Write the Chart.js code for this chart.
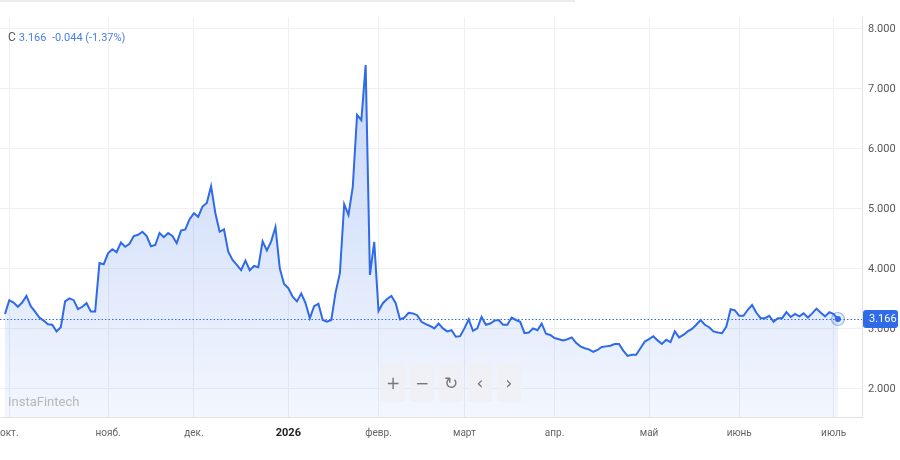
<!DOCTYPE html>
<html><head><meta charset="utf-8">
<script src="https://cdn.jsdelivr.net/npm/chart.js@4.4.1/dist/chart.umd.min.js"></script>
<style>
html,body{margin:0;padding:0;background:#fff;width:900px;height:460px;overflow:hidden;font-family:Roboto,'Noto Sans',sans-serif}
#wrap{position:relative;width:900px;height:460px}
canvas{position:absolute;left:0;top:0}
#hdr{position:absolute;left:8px;top:30px;font-size:11px;line-height:14px;color:#4a7de8;white-space:pre}
#hdr .c{color:#555;margin-right:3px;font-size:12px}
#wm{position:absolute;left:8px;top:394px;font-size:13px;color:#b8b8b8}
#btns{position:absolute;left:381px;top:363px;display:flex;gap:5px}
.b{width:24px;height:39px;border-radius:4px;background:rgba(238,240,244,0.85);color:#777;font-size:17px;display:flex;align-items:center;justify-content:center;font-family:'DejaVu Sans',sans-serif}
#bar{position:absolute;left:0;top:0;width:575px;height:2px;background:#ececec}
</style></head>
<body>
<div id="wrap">
<canvas id="c" width="900" height="460"></canvas>
<div id="bar"></div>
<div id="hdr"><span class="c">C</span><span id="hv"></span></div>
<div id="wm">InstaFintech</div>
<div id="btns"><div class="b">+</div><div class="b">−</div><div class="b">↻</div><div class="b">‹</div><div class="b">›</div></div>
</div>
<script>
const monthLabels = ['окт.','нояб.','дек.','2026','февр.','март','апр.','май','июнь','июль'];
const monthTickIdx = [1,24,44,66,87,107,128,150,171,193];
const yTicks = [2,3,4,5,6,7,8];
const lastChange = '-0.044';
const lastChangePct = '(-1.37%)';
const closeValues = [
3.25,3.48,3.44,3.37,3.44,3.55,3.38,3.29,3.19,3.14,3.08,3.07,2.96,3.03,3.46,3.51,3.48,3.33,3.37,3.43,
3.29,3.29,4.10,4.08,4.26,4.33,4.28,4.44,4.37,4.42,4.55,4.57,4.62,4.55,4.38,4.40,4.60,4.53,4.60,4.55,
4.43,4.64,4.66,4.83,4.93,4.87,5.04,5.10,5.38,4.93,4.62,4.66,4.29,4.15,4.07,3.98,4.14,3.98,4.05,4.03,
4.46,4.31,4.46,4.70,4.01,3.75,3.68,3.54,3.46,3.59,3.43,3.18,3.38,3.42,3.15,3.12,3.15,3.61,3.93,5.08,
4.90,5.37,6.57,6.48,7.40,3.90,4.45,3.30,3.43,3.50,3.55,3.43,3.16,3.19,3.27,3.26,3.23,3.12,3.08,3.05,
3.01,3.09,3.01,2.96,2.98,2.87,2.88,3.01,3.16,2.97,3.01,3.20,3.07,3.09,3.14,3.15,3.07,3.07,3.19,3.15,
3.12,2.93,2.94,3.01,2.98,3.09,2.92,2.90,2.85,2.83,2.81,2.83,2.86,2.77,2.71,2.68,2.66,2.62,2.65,2.70,
2.71,2.72,2.75,2.75,2.64,2.55,2.57,2.57,2.68,2.79,2.83,2.88,2.81,2.75,2.82,2.78,2.96,2.86,2.90,2.96,
3.00,3.07,3.15,3.07,3.03,2.96,2.94,2.93,3.04,3.33,3.31,3.22,3.22,3.32,3.40,3.27,3.18,3.18,3.22,3.12,
3.18,3.18,3.28,3.20,3.25,3.21,3.26,3.19,3.26,3.34,3.27,3.21,3.28,3.25,3.166
];
const N = closeValues.length;
const lastVal = closeValues[N-1];
document.getElementById('hv').textContent = lastVal.toFixed(3) + '  ' + lastChange + ' ' + lastChangePct;

const BLUE = '#2f6ae8';
const overlay = {
  id:'overlay',
  afterDatasetsDraw(chart){
    const {ctx, chartArea:a, scales:{x,y}} = chart;
    const py = y.getPixelForValue(lastVal);
    const px = x.getPixelForValue(N-1);
    ctx.save();
    ctx.strokeStyle = BLUE; ctx.lineWidth = 1; ctx.setLineDash([1.5,2]);
    ctx.beginPath(); ctx.moveTo(a.left, Math.round(py)+0.5); ctx.lineTo(a.right, Math.round(py)+0.5); ctx.stroke();
    ctx.setLineDash([]);
    ctx.beginPath(); ctx.arc(px, py, 6.5, 0, Math.PI*2);
    ctx.fillStyle='rgba(47,106,232,0.12)'; ctx.fill();
    ctx.strokeStyle='rgba(47,106,232,0.45)'; ctx.lineWidth=1.2; ctx.stroke();
    const bx = a.right+1, bw = 35, bh = 18, by = py - bh/2;
    ctx.fillStyle = BLUE;
    ctx.beginPath(); ctx.roundRect(bx, by, bw, bh, 3); ctx.fill();
    ctx.fillStyle='#fff'; ctx.font='11px Roboto, sans-serif'; ctx.textBaseline='middle'; ctx.textAlign='left';
    ctx.fillText(lastVal.toFixed(3), bx+6, py+0.5);
    ctx.restore();
  }
};

new Chart(document.getElementById('c'), {
  type:'line',
  data:{datasets:[{
    data: closeValues.map((v,i)=>({x:i,y:v})),
    borderColor: BLUE, borderWidth: 2, tension: 0,
    pointRadius: c => c.dataIndex===N-1 ? 3 : 0,
    pointBackgroundColor: BLUE, pointBorderWidth: 0,
    fill: 'start',
    backgroundColor: (c)=>{
      const a = c.chart.chartArea;
      if(!a) return 'rgba(47,106,232,0.12)';
      const g = c.chart.ctx.createLinearGradient(0,a.top,0,a.bottom);
      g.addColorStop(0,'rgba(47,106,232,0.30)');
      g.addColorStop(1,'rgba(47,106,232,0.06)');
      return g;
    }
  }]},
  options:{
    responsive:false, animation:false,
    layout:{padding:{top:17,left:0,right:0,bottom:0}, autoPadding:false},
    plugins:{legend:{display:false}, tooltip:{enabled:false}},
    scales:{
      x:{type:'linear', min:-1.16, max:199.6,
        afterBuildTicks: s => { s.ticks = monthTickIdx.map(v=>({value:v})); },
        afterFit: s => { s.height = 43; s.paddingLeft = 0; s.paddingRight = 0; },
        ticks:{autoSkip:false, maxRotation:0, padding:10,
          callback:(v,i)=>monthLabels[i],
          color: c => (c.index===3) ? '#222' : '#666',
          font: c => (c.index===3) ? {size:11, weight:'bold', family:'Roboto'} : {size:10, family:'Roboto'}},
        grid:{color:'#f0f0f0', drawTicks:false},
        border:{color:'#e2e2e2'}
      },
      y:{position:'right', min:1.533, max:8.2,
        afterBuildTicks: s => { s.ticks = yTicks.map(v=>({value:v})); },
        afterFit: s => { s.width = 38; s.paddingTop = 0; s.paddingBottom = 0; },
        ticks:{padding:6, color:'#555', font:{size:11, family:'Roboto'}, callback:v=>Number(v).toFixed(3)},
        grid:{color:'#f0f0f0', drawTicks:false},
        border:{color:'#e2e2e2'}
      }
    }
  },
  plugins:[overlay]
});
</script>
</body></html>
